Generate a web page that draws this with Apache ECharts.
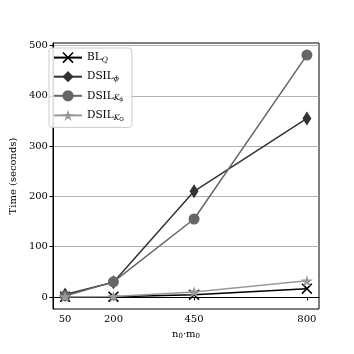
<!DOCTYPE html>
<html>
<head>
    <meta charset="utf-8">
    <title>ECharts</title>
    <script src="https://cdn.jsdelivr.net/npm/echarts@6/dist/echarts.min.js"></script>
    <style>
        html, body { margin: 0; padding: 0; background: #fff; }
    </style>
</head>
<body>
    <div id="main" style="width: 354px;height:354px;"></div>
    <script type="text/javascript">
        // data
        var sizes = [50, 200, 450, 800];
        var bl_q = [0.2, 0.5, 4.5, 16.5];
        var dsil_phi = [5, 29, 210, 355];
        var dsil_k_phi = [2, 30, 155, 481];
        var dsil_k_o = [0.5, 1, 10, 32];
        var y_ticks = [0, 100, 200, 300, 400, 500];

        var FONT = 'DejaVu Serif';

        // x marker and star as paths
        var X_PATH = 'path://M0,1L1,0L5,4L9,0L10,1L6,5L10,9L9,10L5,6L1,10L0,9L4,5Z';
        var STAR_PATH = 'path://M50,0L61.23,34.55L97.55,34.55L68.16,55.9L79.39,90.45L50,69.1L20.61,90.45L31.84,55.9L2.45,34.55L38.77,34.55Z';

        function pairs(ys) {
            return sizes.map(function (x, i) { return [x, ys[i]]; });
        }

        function make_series(name, ys, color, symbol, symbolSize) {
            return {
                name: name,
                type: 'line',
                data: pairs(ys),
                symbol: symbol,
                symbolSize: symbolSize,
                symbolKeepAspect: true,
                lineStyle: { color: color, width: 1.5 },
                itemStyle: { color: color, borderWidth: 0 },
                emphasis: { disabled: true },
                animation: false
            };
        }

        var chart = echarts.init(document.getElementById('main'));
        var option = {
            backgroundColor: '#fff',
            textStyle: { fontFamily: FONT },
            grid: {
                left: 44, right: 35, top: 43, bottom: 45,
                show: true, borderColor: '#000', borderWidth: 1,
                containLabel: false
            },
            legend: {
                left: 49, top: 48,
                orient: 'vertical',
                padding: [4, 8, 5, 4],
                itemGap: 7,
                itemWidth: 28,
                itemHeight: 14,
                borderColor: '#cccccc',
                borderWidth: 1,
                borderRadius: 3,
                backgroundColor: 'rgba(255,255,255,0.85)',
                textStyle: {
                    fontFamily: FONT, fontSize: 10, color: '#000',
                    rich: {
                        m: { fontFamily: FONT, fontSize: 10.5, color: '#000' },
                        s: { fontFamily: FONT, fontSize: 7.5, fontStyle: 'italic', color: '#000', padding: [5, 0, 0, 0] },
                        ss: { fontFamily: FONT, fontSize: 5.5, color: '#000', padding: [8, 0, 0, 0] }
                    }
                },
                formatter: function (name) {
                    if (name === 'BL_Q') return '{m|BL}{s|Q}';
                    if (name === 'DSIL_phi') return '{m|DSIL}{s|ϕ}';
                    if (name === 'DSIL_K_phi') return '{m|DSIL}{s|K}{ss|ϕ}';
                    return '{m|DSIL}{s|K}{ss|O}';
                },
                data: ['BL_Q', 'DSIL_phi', 'DSIL_K_phi', 'DSIL_K_O']
            },
            xAxis: {
                type: 'value',
                min: 12.5,
                max: 837.5,
                name: 'n{s|0}·m{s|0}',
                nameLocation: 'middle',
                nameGap: 20,
                nameTextStyle: {
                    fontFamily: FONT, fontSize: 10, color: '#000',
                    rich: { s: { fontFamily: FONT, fontSize: 7, color: '#000', padding: [4, 0, 0, 0] } }
                },
                axisLine: { lineStyle: { color: '#000', width: 1 } },
                axisTick: { customValues: sizes, length: 3.5, lineStyle: { color: '#000' } },
                axisLabel: { customValues: sizes, fontFamily: FONT, fontSize: 10, color: '#000', margin: 5 },
                splitLine: { show: false }
            },
            yAxis: {
                type: 'value',
                min: -24,
                max: 505,
                name: 'Time (seconds)',
                nameLocation: 'middle',
                nameGap: 31,
                nameTextStyle: { fontFamily: FONT, fontSize: 10, color: '#000' },
                axisLine: { show: true, lineStyle: { color: '#000', width: 1 } },
                axisTick: { show: true, customValues: y_ticks, length: 3.5, lineStyle: { color: '#000' } },
                axisLabel: { customValues: y_ticks, fontFamily: FONT, fontSize: 10, color: '#000', margin: 5 },
                splitLine: { show: true, lineStyle: { color: '#b0b0b0', width: 1 } }
            },
            series: [
                make_series('BL_Q', bl_q, '#000000', X_PATH, 11),
                make_series('DSIL_phi', dsil_phi, '#333333', 'diamond', [9, 14]),
                make_series('DSIL_K_phi', dsil_k_phi, '#666666', 'circle', 11),
                make_series('DSIL_K_O', dsil_k_o, '#999999', STAR_PATH, 12)
            ]
        };
        chart.setOption(option);
    </script>
</body>
</html>
